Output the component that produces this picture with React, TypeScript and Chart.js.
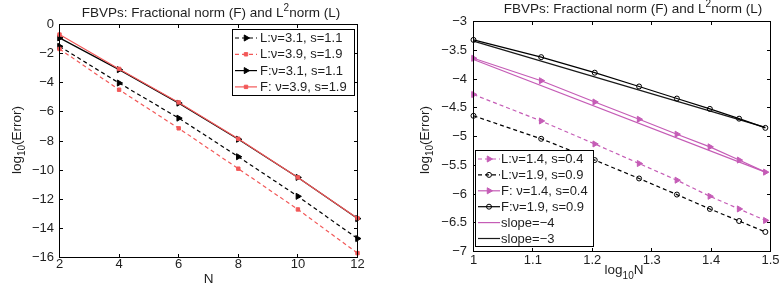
import React, { useEffect, useRef } from 'react';
import { Chart, registerables } from 'chart.js';

Chart.register(...registerables);

// ---------- Left panel data ----------
const leftN = [2, 4, 6, 8, 10, 12];
const leftL31 = [-1.5, -4.02, -6.43, -9.08, -11.8, -14.7];
const leftL39 = [-1.68, -4.48, -7.13, -9.9, -12.7, -15.7];
const leftF31 = [-0.92, -3.1, -5.4, -7.88, -10.5, -13.33];
const leftF39 = [-0.69, -3.05, -5.35, -7.85, -10.5, -13.3];
const leftXTicks = [2, 4, 6, 8, 10, 12];
const leftYTicks = [0, -2, -4, -6, -8, -10, -12, -14, -16];

// ---------- Right panel data ----------
const rightN = [10, 13, 16, 19, 22, 25, 28, 31];
const rightL14 = [-4.27, -4.73, -5.13, -5.47, -5.76, -6.04, -6.26, -6.46];
const rightL19 = [-4.64, -5.04, -5.41, -5.73, -6.01, -6.26, -6.47, -6.66];
const rightF14 = [-3.64, -4.03, -4.4, -4.7, -4.96, -5.18, -5.41, -5.62];
const rightF19 = [-3.32, -3.62, -3.89, -4.13, -4.34, -4.52, -4.69, -4.85];
const rightSlopeN = [10, 31];
const rightSlope4 = [-3.66, -5.62];
const rightSlope3 = [-3.34, -4.84];
const rightXTicks = [1, 1.1, 1.2, 1.3, 1.4, 1.5];
const rightYTicks = [-3, -3.5, -4, -4.5, -5, -5.5, -6, -6.5, -7];

const FONT = '"Liberation Sans", Arial, Helvetica, sans-serif';
const BLACK = '#000000';
const RED = '#f25858';
const MAG = '#c55cb6';
const TXT = '#1e1e1e';

type Part = { t: string; size: number; dy: number };

function fmt(v: number): string {
  return (v < 0 ? '\u2212' : '') + String(Math.abs(v));
}

function richWidth(ctx: CanvasRenderingContext2D, parts: Part[]) {
  let w = 0;
  for (const p of parts) {
    ctx.font = `${p.size}px ${FONT}`;
    w += ctx.measureText(p.t).width;
  }
  return w;
}

function drawRich(ctx: CanvasRenderingContext2D, parts: Part[], x: number, y: number, align: string) {
  const w = richWidth(ctx, parts);
  let cx = align === 'center' ? x - w / 2 : align === 'right' ? x - w : x;
  ctx.textAlign = 'left';
  ctx.textBaseline = 'alphabetic';
  for (const p of parts) {
    ctx.font = `${p.size}px ${FONT}`;
    ctx.fillText(p.t, cx, y + p.dy);
    cx += ctx.measureText(p.t).width;
  }
}

function drawMarker(ctx: CanvasRenderingContext2D, ds: any, x: number, y: number) {
  const style = ds.pointStyle;
  const r = ds.pointRadius;
  if (!r) return;
  ctx.save();
  ctx.translate(x, y);
  ctx.rotate(((ds.pointRotation || 0) * Math.PI) / 180);
  ctx.beginPath();
  if (style === 'triangle') {
    const a = (2 * Math.PI) / 3;
    ctx.moveTo(0, -r);
    ctx.lineTo(Math.sin(a) * r, -Math.cos(a) * r);
    ctx.lineTo(Math.sin(2 * a) * r, -Math.cos(2 * a) * r);
    ctx.closePath();
  } else if (style === 'rect') {
    const s = r * Math.SQRT1_2;
    ctx.rect(-s, -s, 2 * s, 2 * s);
  } else {
    ctx.arc(0, 0, r, 0, Math.PI * 2);
  }
  ctx.setLineDash([]);
  ctx.fillStyle = ds.pointBackgroundColor;
  ctx.strokeStyle = ds.pointBorderColor;
  ctx.lineWidth = ds.pointBorderWidth;
  ctx.fill();
  ctx.stroke();
  ctx.restore();
}

const crisp = (v: number) => Math.round(v - 0.5) + 0.5;

const matlabPlugin = {
  id: 'matlab',
  afterDraw(chart: any, _args: any, o: any) {
    const ctx: CanvasRenderingContext2D = chart.ctx;
    const { left, right, top, bottom } = chart.chartArea;
    const xs = chart.scales.x;
    const ys = chart.scales.y;
    ctx.save();
    ctx.setLineDash([]);
    ctx.strokeStyle = BLACK;
    ctx.lineWidth = 1;
    ctx.strokeRect(left, top, right - left, bottom - top);
    const tl = o.tickLen;
    ctx.beginPath();
    for (const v of o.xTicks) {
      const px = crisp(xs.getPixelForValue(v));
      ctx.moveTo(px, bottom);
      ctx.lineTo(px, bottom - tl);
      ctx.moveTo(px, top);
      ctx.lineTo(px, top + tl);
    }
    for (const v of o.yTicks) {
      const py = crisp(ys.getPixelForValue(v));
      ctx.moveTo(left, py);
      ctx.lineTo(left + tl, py);
      ctx.moveTo(right, py);
      ctx.lineTo(right - tl, py);
    }
    ctx.stroke();

    // tick labels
    ctx.fillStyle = TXT;
    ctx.font = `${o.tickSize}px ${FONT}`;
    ctx.textAlign = 'center';
    ctx.textBaseline = 'middle';
    for (const v of o.xTicks) {
      ctx.fillText(fmt(v), xs.getPixelForValue(v), o.xLabelY);
    }
    ctx.textAlign = 'right';
    for (const v of o.yTicks) {
      ctx.fillText(fmt(v), o.yLabelX, ys.getPixelForValue(v));
    }

    // title
    drawRich(ctx, o.title, o.titleX, o.titleY, 'center');
    // x title
    drawRich(ctx, o.xTitle, o.xTitleX, o.xTitleY, 'center');
    // y title (rotated)
    ctx.save();
    ctx.translate(o.yTitleX, o.yTitleY);
    ctx.rotate(-Math.PI / 2);
    drawRich(ctx, o.yTitle, 0, 0, 'center');
    ctx.restore();

    // legend
    const L = o.legend;
    ctx.fillStyle = '#ffffff';
    ctx.fillRect(L.x, L.y, L.w, L.h);
    ctx.strokeStyle = BLACK;
    ctx.lineWidth = 1;
    ctx.setLineDash([]);
    ctx.strokeRect(L.x, L.y, L.w, L.h);
    chart.data.datasets.forEach((ds: any, i: number) => {
      const y = L.row0 + i * L.rowH;
      ctx.save();
      ctx.beginPath();
      ctx.strokeStyle = ds.borderColor;
      ctx.lineWidth = ds.borderWidth;
      ctx.setLineDash(ds.borderDash || []);
      ctx.moveTo(L.s0, y);
      ctx.lineTo(L.s1, y);
      ctx.stroke();
      ctx.restore();
      drawMarker(ctx, ds, (L.s0 + L.s1) / 2, y);
      ctx.fillStyle = TXT;
      ctx.font = `${L.size}px ${FONT}`;
      ctx.textAlign = 'left';
      ctx.textBaseline = 'middle';
      ctx.fillText(ds.label, L.tx, y + 0.5);
    });
    ctx.restore();
  },
};

function series(label: string, order: number, xs: number[], ys: number[], color: string, dash: number[], style: any, radius: number, fill: string, rot = 0) {
  return {
    label,
    order,
    data: xs.map((x, i) => ({ x, y: ys[i] })),
    borderColor: color,
    borderWidth: 1.2,
    borderDash: dash,
    pointStyle: style,
    pointRadius: radius,
    pointRotation: rot,
    pointBackgroundColor: fill,
    pointBorderColor: color,
    pointBorderWidth: 1,
    pointHoverRadius: radius,
    tension: 0,
    fill: false,
    clip: false,
  };
}

const DASH = [4, 3];

function leftConfig(): any {
  return {
    type: 'line',
    data: {
      datasets: [
        series('L:\u03bd=3.1, s=1.1', 0, leftN, leftL31, BLACK, DASH, 'triangle', 3.5, BLACK, 90),
        series('L:\u03bd=3.9, s=1.9', -1, leftN, leftL39, RED, DASH, 'rect', 2.4, RED),
        series('F:\u03bd=3.1, s=1.1', -2, leftN, leftF31, BLACK, [], 'triangle', 3.5, BLACK, 90),
        series('F: \u03bd=3.9, s=1.9', -3, leftN, leftF39, RED, [], 'rect', 2.4, RED),
      ],
    },
    options: {
      responsive: false,
      animation: false,
      devicePixelRatio: 1,
      events: [],
      layout: { padding: { left: 59.5, right: 32.5, top: 24.5, bottom: 32.5 } },
      scales: {
        x: { type: 'linear', min: 2, max: 12, display: false },
        y: { type: 'linear', min: -16, max: 0, display: false },
      },
      plugins: {
        legend: { display: false },
        title: { display: false },
        tooltip: { enabled: false },
        matlab: {
          tickLen: 3.5,
          xTicks: leftXTicks,
          yTicks: leftYTicks,
          tickSize: 13,
          xLabelY: 264.5,
          yLabelX: 54,
          title: [
            { t: 'FBVPs: Fractional norm (F) and L', size: 13.5, dy: 0 },
            { t: '2', size: 10, dy: -5.5 },
            { t: 'norm (L)', size: 13.5, dy: 0 },
          ],
          titleX: 211,
          titleY: 16.5,
          xTitle: [{ t: 'N', size: 13.5, dy: 0 }],
          xTitleX: 208.5,
          xTitleY: 283,
          yTitle: [
            { t: 'log', size: 13.5, dy: 0 },
            { t: '10', size: 10, dy: 4 },
            { t: '(Error)', size: 13.5, dy: 0 },
          ],
          yTitleX: 21,
          yTitleY: 140,
          legend: { x: 232.5, y: 29.5, w: 122, h: 66, row0: 38, rowH: 16.3, s0: 235, s1: 257, tx: 260, size: 13 },
        },
      },
    },
    plugins: [matlabPlugin],
  };
}

function rightConfig(): any {
  const lx = rightN.map((n) => Math.log10(n));
  const sx = rightSlopeN.map((n) => Math.log10(n));
  return {
    type: 'line',
    data: {
      datasets: [
        series('L:\u03bd=1.4, s=0.4', 0, lx, rightL14, MAG, DASH, 'triangle', 3.5, MAG, 90),
        series('L:\u03bd=1.9, s=0.9', -1, lx, rightL19, BLACK, DASH, 'circle', 2.5, 'rgba(0,0,0,0)'),
        series('F: \u03bd=1.4, s=0.4', -2, lx, rightF14, MAG, [], 'triangle', 3.5, MAG, 90),
        series('F:\u03bd=1.9, s=0.9', -3, lx, rightF19, BLACK, [], 'circle', 2.5, 'rgba(0,0,0,0)'),
        series('slope=\u22124', 1, sx, rightSlope4, MAG, [], 'circle', 0, MAG),
        series('slope=\u22123', 1, sx, rightSlope3, '#1a1a1a', [], 'circle', 0, BLACK),
      ],
    },
    options: {
      responsive: false,
      animation: false,
      devicePixelRatio: 1,
      events: [],
      layout: { padding: { left: 83.5, right: 10.5, top: 21.5, bottom: 38.5 } },
      scales: {
        x: { type: 'linear', min: 1, max: 1.5, display: false },
        y: { type: 'linear', min: -7, max: -3, display: false },
      },
      plugins: {
        legend: { display: false },
        title: { display: false },
        tooltip: { enabled: false },
        matlab: {
          tickLen: 3.5,
          xTicks: rightXTicks,
          yTicks: rightYTicks,
          tickSize: 13,
          xLabelY: 260.5,
          yLabelX: 77,
          title: [
            { t: 'FBVPs: Fractional norm (F) and L', size: 13.5, dy: 0 },
            { t: '2', size: 10, dy: -5.5 },
            { t: 'norm (L)', size: 13.5, dy: 0 },
          ],
          titleX: 243,
          titleY: 12.5,
          xTitle: [
            { t: 'log', size: 13.5, dy: 0 },
            { t: '10', size: 10, dy: 5 },
            { t: 'N', size: 13.5, dy: 0 },
          ],
          xTitleX: 234,
          xTitleY: 273.5,
          yTitle: [
            { t: 'log', size: 13.5, dy: 0 },
            { t: '10', size: 10, dy: 4 },
            { t: '(Error)', size: 13.5, dy: 0 },
          ],
          yTitleX: 39,
          yTitleY: 140,
          legend: { x: 85.5, y: 150.5, w: 118, h: 96, row0: 159, rowH: 15.9, s0: 88, s1: 110, tx: 111, size: 13 },
        },
      },
    },
    plugins: [matlabPlugin],
  };
}

export default function App() {
  const leftRef = useRef<HTMLCanvasElement | null>(null);
  const rightRef = useRef<HTMLCanvasElement | null>(null);

  useEffect(() => {
    const c1 = new Chart(leftRef.current as HTMLCanvasElement, leftConfig());
    const c2 = new Chart(rightRef.current as HTMLCanvasElement, rightConfig());
    return () => {
      c1.destroy();
      c2.destroy();
    };
  }, []);

  return (
    <div style={{ position: 'absolute', left: 0, top: 0, width: 781, height: 290, background: '#fff', overflow: 'hidden' }}>
      <canvas ref={leftRef} width={390} height={290} style={{ position: 'absolute', left: 0, top: 0, width: 390, height: 290 }} />
      <canvas ref={rightRef} width={391} height={290} style={{ position: 'absolute', left: 390, top: 0, width: 391, height: 290 }} />
    </div>
  );
}
